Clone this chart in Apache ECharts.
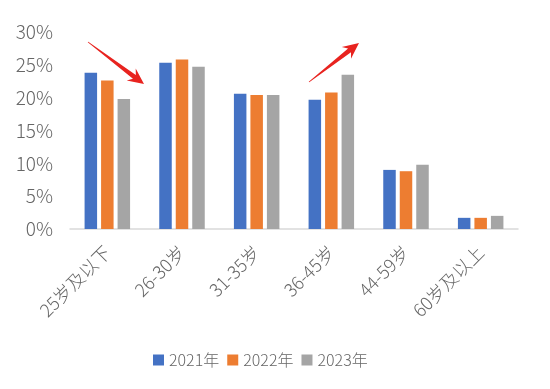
<!DOCTYPE html>
<html><head><meta charset="utf-8">
<script src="https://cdn.jsdelivr.net/npm/echarts@6/dist/echarts.min.js"></script>
<style>html,body{margin:0;padding:0;background:#fff}#c{width:550px;height:389px}</style>
</head><body><div id="c"></div>
<script>
var categories = ['25岁及以下','26-30岁','31-35岁','36-45岁','44-59岁','60岁及以上'];
var seriesNames = ['2021年','2022年','2023年'];
var s2021 = [23.8, 25.3, 20.6, 19.7, 9.0, 1.7];
var s2022 = [22.6, 25.8, 20.4, 20.8, 8.8, 1.7];
var s2023 = [19.8, 24.7, 20.4, 23.5, 9.8, 2.0];
var colors = ['#4472C4','#ED7D31','#A5A5A5'];
var yTicks = {min:0, max:30, interval:5};

function arrow(S, T){
  var dx=T[0]-S[0], dy=T[1]-S[1], L=Math.sqrt(dx*dx+dy*dy);
  var d=[dx/L,dy/L], n=[-d[1],d[0]];
  var h=16, B=[T[0]-d[0]*h, T[1]-d[1]*h], Bn=[T[0]-d[0]*(h-4), T[1]-d[1]*(h-4)];
  function p(P,k){return [P[0]+n[0]*k, P[1]+n[1]*k];}
  return {type:'polygon', shape:{points:[p(S,0.4),p(Bn,2.4),p(B,7.5),T,p(B,-7.5),p(Bn,-2.4),p(S,-0.4)]}, style:{fill:'#E8231F'}, z:10};
}

var chart = echarts.init(document.getElementById('c'));
var font = '"Noto Sans CJK SC", "Noto Sans", sans-serif';
var data = [s2021, s2022, s2023];
chart.setOption({
  animation:false,
  textStyle:{fontFamily:font},
  grid:{left:70, right:32, top:32, height:197},
  legend:{data:seriesNames, left:148, top:347, itemWidth:11, itemHeight:11, itemGap:8, icon:'rect',
    textStyle:{color:'#666666', fontSize:16, fontFamily:font, fontWeight:300}},
  xAxis:{type:'category', data:categories,
    axisLine:{lineStyle:{color:'#D9D9D9', width:1.5}}, axisTick:{show:false},
    axisLabel:{rotate:45, interval:0, color:'#666666', fontSize:18, margin:20, fontFamily:font, fontWeight:300}},
  yAxis:{type:'value', min:yTicks.min, max:yTicks.max, interval:yTicks.interval,
    splitLine:{show:false}, axisLine:{show:false}, axisTick:{show:false},
    axisLabel:{formatter:'{value}%', color:'#666666', fontSize:19, margin:17, fontFamily:font, fontWeight:300}},
  series: seriesNames.map(function(nm,i){
    return {name:nm, type:'bar', data:data[i], barWidth:12.5, barGap:'32%', itemStyle:{color:colors[i]}};
  }),
  graphic:[arrow([88,42],[144,84]), arrow([309,82],[359,43])]
});
</script></body></html>
